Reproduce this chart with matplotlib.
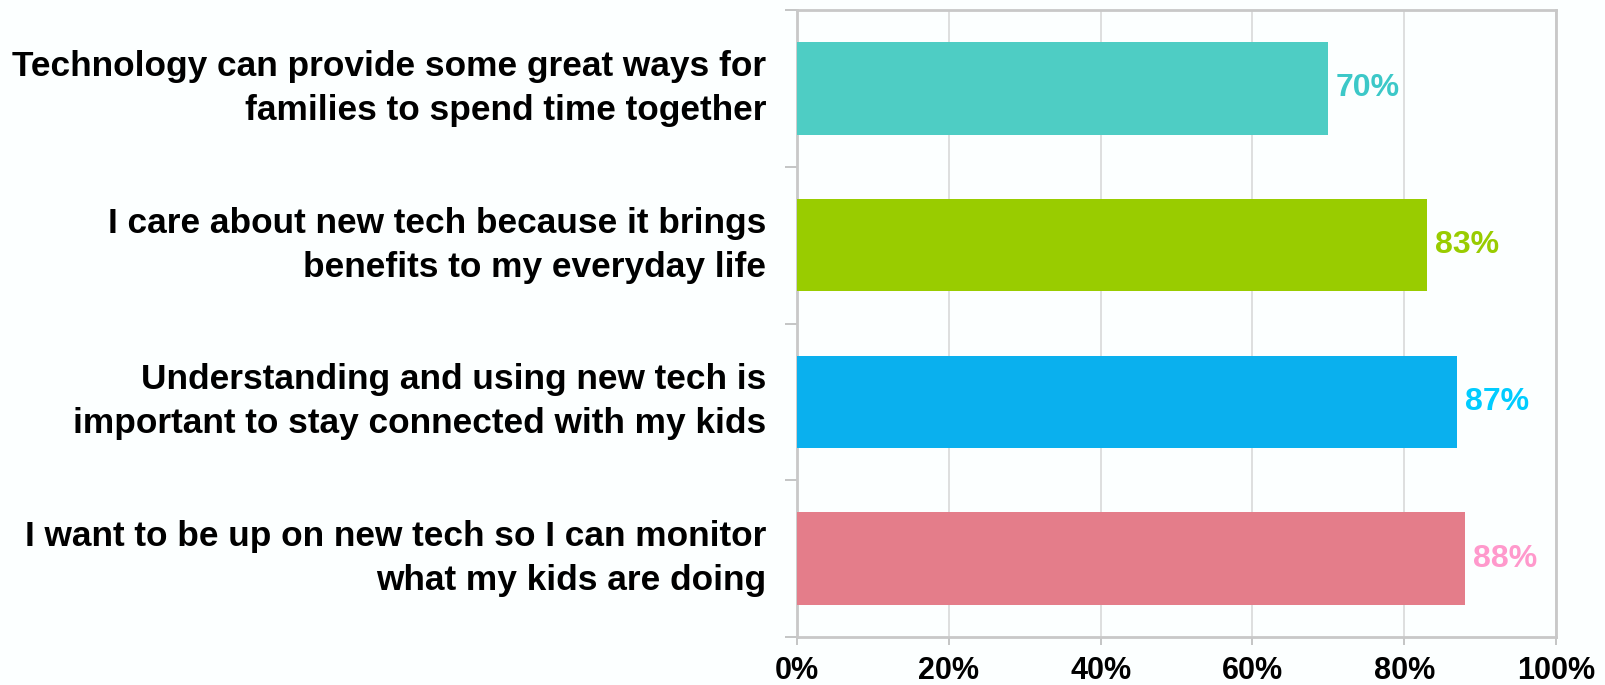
import matplotlib
matplotlib.use("Agg")
from matplotlib import pyplot as plt
from matplotlib.ticker import FixedLocator, PercentFormatter

labels = [
    "Technology can provide some great ways for\nfamilies to spend time together",
    "I care about new tech because it brings\nbenefits to my everyday life",
    "Understanding and using new tech is\nimportant to stay connected with my kids",
    "I want to be up on new tech so I can monitor\nwhat my kids are doing",
]
values = [70, 83, 87, 88]
bar_colors = ["#4ECDC4", "#99CC00", "#0AB0EE", "#E47D8A"]
text_colors = ["#3CC8C8", "#99CC00", "#00CCFF", "#FF99CC"]
xticks = [0, 20, 40, 60, 80, 100]

plt.rcParams['font.family'] = ['Liberation Sans', 'DejaVu Sans']

fig = plt.figure(figsize=(16.05, 6.85), dpi=100, facecolor="#FCFFFF")
ax = fig.add_axes([0.4966, 0.070, 0.4729, 0.9154])
ax.set_facecolor("#FCFFFF")

pos = list(range(len(labels)))
ax.barh(pos, values, height=0.59, color=bar_colors, zorder=3)
for p, v, c in zip(pos, values, text_colors):
    ax.text(v + 1.0, p, f"{v}%", color=c, fontsize=23, fontweight="bold",
            va="center", ha="left", zorder=4)

ax.set_xlim(0, 100)
ax.set_ylim(3.5, -0.5)
ax.set_xticks(xticks)
ax.xaxis.set_major_formatter(PercentFormatter(decimals=0))
ax.set_yticks(pos)
ax.set_yticklabels(labels, fontsize=25.4, fontweight="bold", ha="right",
                   va="center", linespacing=1.42)
ax.yaxis.set_minor_locator(FixedLocator([-0.5, 0.5, 1.5, 2.5, 3.5]))
ax.tick_params(axis="y", which="major", length=0, pad=22)
ax.tick_params(axis="y", which="minor", length=9, color="#BBBBBB", width=1.2)
ax.tick_params(axis="x", length=6, color="#BBBBBB", width=1.2, pad=8)
for t in ax.get_xticklabels():
    t.set_fontfamily(['Liberation Sans Narrow', 'Liberation Sans', 'DejaVu Sans'])
    t.set_fontsize(22)
    t.set_fontweight("bold")

ax.grid(axis="x", color="#D9D9D9", linewidth=1.2, zorder=0)
for s in ax.spines.values():
    s.set_color("#C8C8C8")
    s.set_linewidth(2)

fig.savefig("out.png", dpi=100, facecolor=fig.get_facecolor())
